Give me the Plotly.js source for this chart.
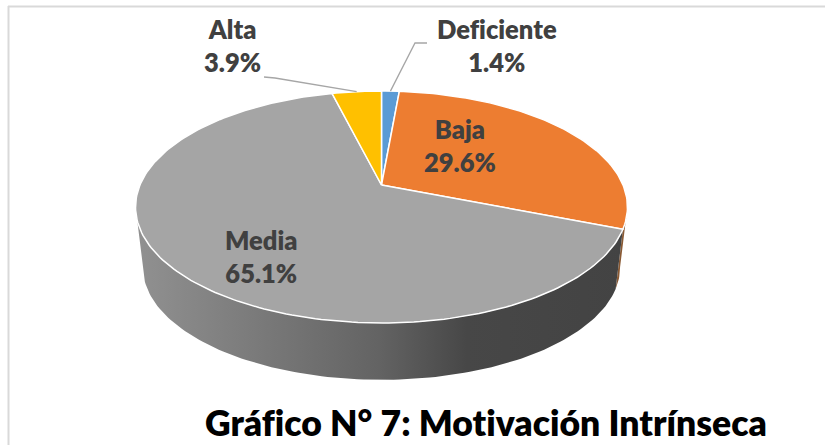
<!DOCTYPE html>
<html>
<head>
<meta charset="utf-8">
<script src="https://cdn.plot.ly/plotly-3.0.1.min.js"></script>
<style>html,body{margin:0;padding:0;background:#fff}#chart{width:825px;height:445px}svg text{font-variant-ligatures:none !important;font-feature-settings:"liga" 0,"clig" 0 !important}</style>
</head>
<body>
<div id="chart"></div>
<script>
var categories = ['Deficiente', 'Baja', 'Media', 'Alta'];
var shares = [1.4, 29.6, 65.1, 3.9];
var sliceColors = ['#5b9bd5', '#ed7d31', '#a5a5a5', '#ffc000'];
var chartTitle = 'Gráfico N° 7: Motivación Intrínseca';

// perspective projection of the pie disc
var cx = 381.5, cy = 185, B = 241.5, A = 111.8, k = 0.1897;
var depth = 61, baseScale = 0.97;
function rim(pct, drop, s) {
  var t = pct * 3.6 * Math.PI / 180, u = Math.sin(t), v = Math.cos(t), d = 1 + k * v;
  return [cx + s * B * u / d, cy + drop - s * A * v / d];
}
function arc(p0, p1, drop, s) {
  var xs = [], ys = [], n = Math.max(2, Math.ceil(Math.abs(p1 - p0) * 3));
  for (var i = 0; i <= n; i++) {
    var p = rim(p0 + (p1 - p0) * i / n, drop, s);
    xs.push(p[0]); ys.push(p[1]);
  }
  return [xs, ys];
}
function wall(p0, p1, color, gradient) {
  var a = arc(p0, p1, 0, 1), b = arc(p1, p0, depth, baseScale);
  var tr = {x: a[0].concat(b[0]), y: a[1].concat(b[1]), mode: 'lines', line: {width: 0}, fill: 'toself', hoverinfo: 'skip'};
  if (gradient) {
    tr.fillcolor = 'rgba(0,0,0,0)';
    tr.fillgradient = {type: 'horizontal', colorscale: gradient};
  } else tr.fillcolor = color;
  return tr;
}

var traces = [];
var cum = [0];
shares.forEach(function (s, i) { cum.push(cum[i] + s); });

// side wall: the visible front of the disc between its two silhouette points
traces.push(wall(28, cum[2], '#8a5a34'));
traces.push(wall(cum[2], 72, '', [[0, '#919191'], [0.25, '#7a7a7a'], [0.5, '#636363'], [0.68, '#474747'], [1, '#434343']]));

// top slices
shares.forEach(function (s, i) {
  var a = arc(cum[i], cum[i + 1], 0, 1);
  traces.push({
    x: [cx].concat(a[0], [cx]), y: [cy].concat(a[1], [cy]),
    mode: 'lines', fill: 'toself', fillcolor: sliceColors[i],
    line: {color: '#ffffff', width: 1.5}, name: categories[i], hoverinfo: 'name'
  });
});

// leader lines
var defTip = rim(cum[0] + shares[0] / 2, 0, 1), altTip = rim(cum[3] + shares[3] / 2, 0, 1);
traces.push({x: [defTip[0], 415, 427], y: [defTip[1], 43, 43], mode: 'lines', line: {color: '#a6a6a6', width: 1.3}, hoverinfo: 'skip'});
traces.push({x: [altTip[0], 275, 264], y: [altTip[1], 78, 77], mode: 'lines', line: {color: '#a6a6a6', width: 1.3}, hoverinfo: 'skip'});

var labelPos = [[497, 45], [460, 145], [261, 256], [232, 45]];
var annotations = categories.map(function (c, i) {
  return {
    x: labelPos[i][0], y: labelPos[i][1], xref: 'x', yref: 'y', showarrow: false,
    text: c + '<br>' + shares[i].toFixed(1) + '%',
    font: {family: 'Lato', size: 25.5, color: '#404040', weight: 800}, align: 'center'
  };
});
annotations.push({
  x: 486, y: 422, xref: 'x', yref: 'y', showarrow: false, text: chartTitle,
  font: {family: 'Lato', size: 35.5, color: '#000000', weight: 800}
});

var layout = {
  width: 825, height: 445, margin: {l: 0, r: 0, t: 0, b: 0},
  paper_bgcolor: '#ffffff', plot_bgcolor: '#ffffff', showlegend: false,
  xaxis: {range: [0, 825], visible: false, fixedrange: true},
  yaxis: {range: [445, 0], visible: false, fixedrange: true},
  annotations: annotations,
  shapes: [
    {type: 'line', xref: 'x', yref: 'y', x0: 8.5, x1: 8.5, y0: 6, y1: 445, line: {color: '#d9d9d9', width: 2}},
    {type: 'line', xref: 'x', yref: 'y', x0: 8, x1: 825, y0: 6.5, y1: 6.5, line: {color: '#d9d9d9', width: 2}}
  ]
};
Plotly.newPlot('chart', traces, layout, {displayModeBar: false, staticPlot: true});
</script>
</body>
</html>
